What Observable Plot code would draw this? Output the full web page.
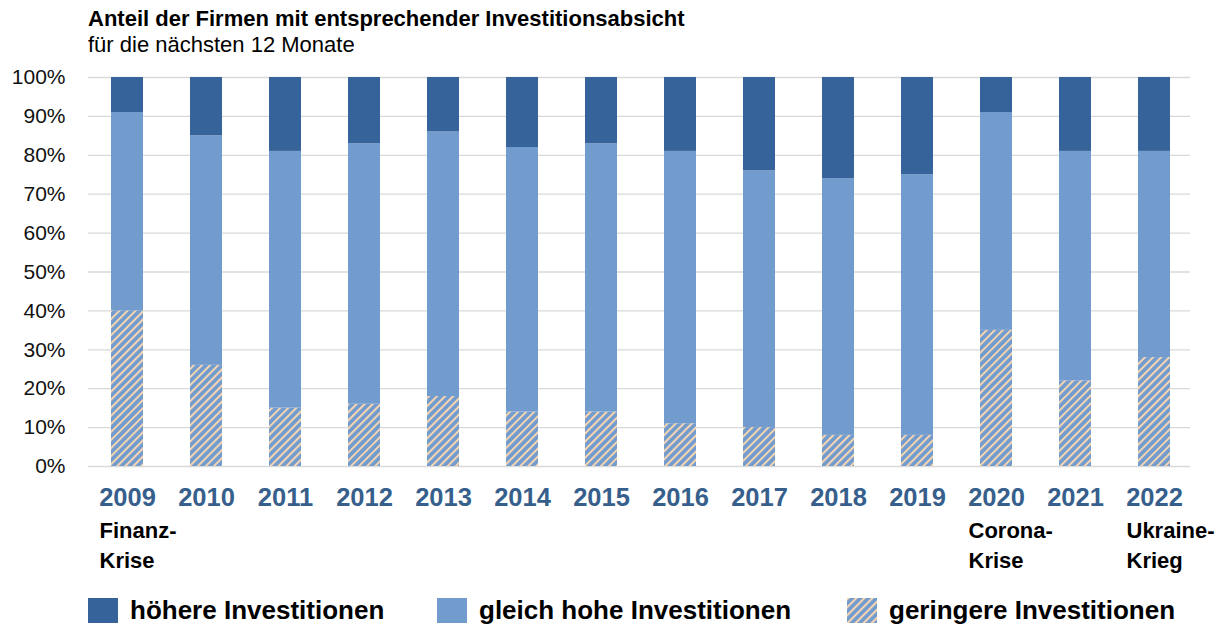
<!DOCTYPE html>
<html>
<head>
<meta charset="utf-8">
<script src="https://cdn.jsdelivr.net/npm/d3@7"></script>
<script src="https://cdn.jsdelivr.net/npm/@observablehq/plot@0.6"></script>
<style>
  body { margin: 0; background: #fff; font-family: "Liberation Sans", Arial, sans-serif; }
  #wrap { position: relative; width: 1221px; height: 626px; overflow: hidden; }
  .title { position: absolute; left: 88px; top: 6px; font-size: 22px; font-weight: bold; color: #000; white-space: nowrap; }
  .subtitle { position: absolute; left: 88px; top: 32px; font-size: 22px; color: #000; white-space: nowrap; }
  #chart { position: absolute; left: 0; top: 66px; }
  .leg { position: absolute; top: 595px; display: flex; align-items: center; font-size: 26px; font-weight: bold; color: #000; white-space: nowrap; }
  .leg svg { margin-right: 12px; }
</style>
</head>
<body>
<div id="wrap">
  <div class="title">Anteil der Firmen mit entsprechender Investitionsabsicht</div>
  <div class="subtitle">für die nächsten 12 Monate</div>
  <div id="chart"></div>
  <div id="legend"></div>
</div>
<script>
const years = ["2009","2010","2011","2012","2013","2014","2015","2016","2017","2018","2019","2020","2021","2022"];
const geringere = [40, 26, 15, 16, 18, 14, 14, 11, 10, 8, 8, 35, 22, 28];
const gleich    = [51, 59, 66, 67, 68, 68, 69, 70, 66, 66, 67, 56, 59, 53];
const hoehere   = [ 9, 15, 19, 17, 14, 18, 17, 19, 24, 26, 25,  9, 19, 19];
const seriesNames = ["geringere Investitionen", "gleich hohe Investitionen", "höhere Investitionen"];
const legendOrder = ["höhere Investitionen", "gleich hohe Investitionen", "geringere Investitionen"];
const yTicks = [0, 10, 20, 30, 40, 50, 60, 70, 80, 90, 100];
const notes = [
  {year: "2009", text: "Finanz-\nKrise"},
  {year: "2020", text: "Corona-\nKrise"},
  {year: "2022", text: "Ukraine-\nKrieg"}
];

const DARK = "#36639a", LIGHT = "#729bce", PEACH = "#f6d5b1";
const seriesColors = ["url(#hatch)", LIGHT, DARK];

const rows = [];
years.forEach((y, i) => {
  rows.push({year: y, series: seriesNames[0], value: geringere[i]});
  rows.push({year: y, series: seriesNames[1], value: gleich[i]});
  rows.push({year: y, series: seriesNames[2], value: hoehere[i]});
});

const plot = Plot.plot({
  width: 1221,
  height: 510,
  marginLeft: 85,
  marginRight: 25,
  marginTop: 11,
  marginBottom: 110,
  style: {fontFamily: "'Liberation Sans', Arial, sans-serif", background: "transparent"},
  x: {domain: years, paddingInner: 0.6, paddingOuter: 0.3, axis: null},
  y: {domain: [0, 100], axis: null},
  color: {domain: seriesNames, range: seriesColors},
  marks: [
    Plot.ruleY(yTicks, {stroke: "#d9d9d9", strokeWidth: 1.3, insetLeft: 3, insetRight: 6}),
    Plot.axisY(yTicks, {tickSize: 0, tickPadding: 20, fontSize: 21, fill: "#111", label: null, tickFormat: d => d + "%"}),
    Plot.barY(rows, {x: "year", y: "value", fill: "series", z: "series"}),
    Plot.text(years, {x: d => d, frameAnchor: "bottom", dy: 31, text: d => d, fontSize: 25.5, fontWeight: "bold", fill: "#375f8c", lineAnchor: "middle"}),
    Plot.text(notes, {x: "year", frameAnchor: "bottom", dy: 50, dx: -28, text: "text", textAnchor: "start", lineAnchor: "top", lineHeight: 1.37, fontSize: 22, fontWeight: "bold", fill: "#000"})
  ]
});

// hatch pattern definition
const svg = d3.select(plot);
const defs = svg.insert("defs", ":first-child");
const pat = defs.append("pattern")
  .attr("id", "hatch")
  .attr("patternUnits", "userSpaceOnUse")
  .attr("width", 5.7).attr("height", 5.7)
  .attr("patternTransform", "rotate(45)");
pat.append("rect").attr("width", 5.7).attr("height", 5.7).attr("fill", LIGHT);
pat.append("line").attr("x1", 1).attr("x2", 1).attr("y1", 0).attr("y2", 5.7)
  .attr("stroke", PEACH).attr("stroke-width", 2);

document.getElementById("chart").appendChild(plot);

// legend
const legendX = [88, 437, 847];
const legendColors = {"höhere Investitionen": DARK, "gleich hohe Investitionen": LIGHT, "geringere Investitionen": "url(#hatch)"};
const leg = document.getElementById("legend");
legendOrder.forEach((name, i) => {
  const div = document.createElement("div");
  div.className = "leg";
  div.style.left = legendX[i] + "px";
  div.innerHTML = `<svg width="30" height="25"><rect width="30" height="25" fill="${legendColors[name]}"></rect></svg><span>${name}</span>`;
  leg.appendChild(div);
});
</script>
</body>
</html>
